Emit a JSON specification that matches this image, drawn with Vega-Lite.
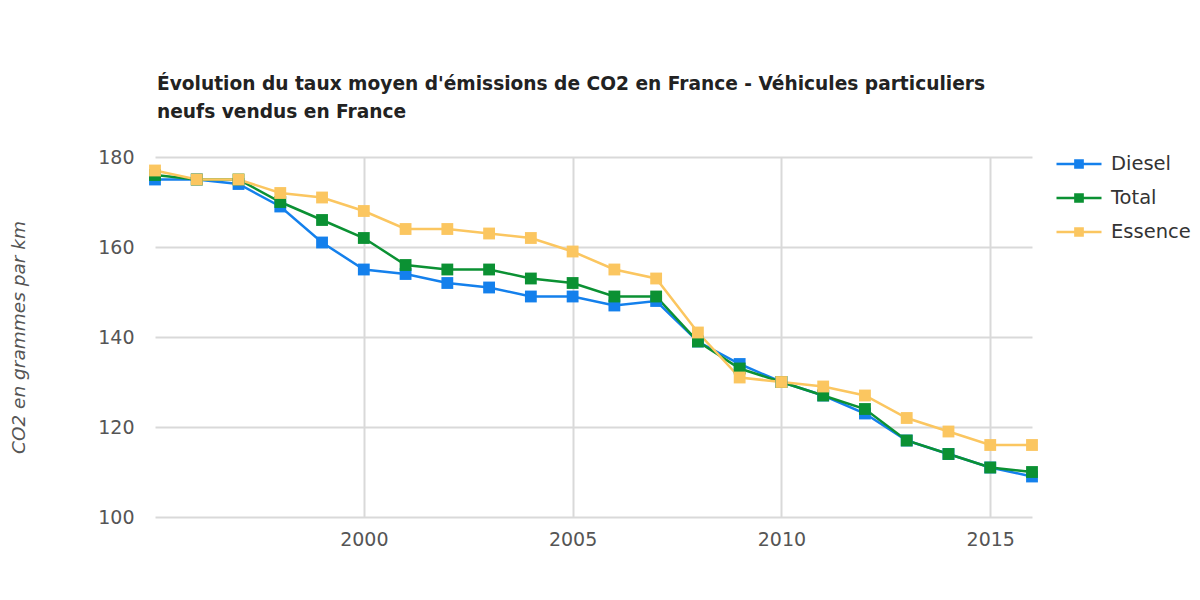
{
  "$schema": "https://vega.github.io/schema/vega-lite/v6.json",
  "width": 877,
  "height": 360,
  "autosize": {"type": "none"},
  "padding": {"left": 155, "top": 157, "right": 168, "bottom": 83},
  "background": "white",
  "title": {
    "text": ["Évolution du taux moyen d'émissions de CO2 en France - Véhicules particuliers", "neufs vendus en France"],
    "anchor": "start",
    "frame": "group",
    "font": "DejaVu Sans",
    "fontSize": 18.6,
    "fontWeight": "bold",
    "color": "#222222",
    "lineHeight": 28,
    "offset": 18,
    "dx": 2
  },
  "config": {
    "view": {"stroke": null},
    "font": "DejaVu Sans"
  },
  "data": {
    "values": [
      {"year": 1995, "type": "Diesel", "value": 175},
      {"year": 1996, "type": "Diesel", "value": 175},
      {"year": 1997, "type": "Diesel", "value": 174},
      {"year": 1998, "type": "Diesel", "value": 169},
      {"year": 1999, "type": "Diesel", "value": 161},
      {"year": 2000, "type": "Diesel", "value": 155},
      {"year": 2001, "type": "Diesel", "value": 154},
      {"year": 2002, "type": "Diesel", "value": 152},
      {"year": 2003, "type": "Diesel", "value": 151},
      {"year": 2004, "type": "Diesel", "value": 149},
      {"year": 2005, "type": "Diesel", "value": 149},
      {"year": 2006, "type": "Diesel", "value": 147},
      {"year": 2007, "type": "Diesel", "value": 148},
      {"year": 2008, "type": "Diesel", "value": 139},
      {"year": 2009, "type": "Diesel", "value": 134},
      {"year": 2010, "type": "Diesel", "value": 130},
      {"year": 2011, "type": "Diesel", "value": 127},
      {"year": 2012, "type": "Diesel", "value": 123},
      {"year": 2013, "type": "Diesel", "value": 117},
      {"year": 2014, "type": "Diesel", "value": 114},
      {"year": 2015, "type": "Diesel", "value": 111},
      {"year": 2016, "type": "Diesel", "value": 109},
      {"year": 1995, "type": "Total", "value": 176},
      {"year": 1996, "type": "Total", "value": 175},
      {"year": 1997, "type": "Total", "value": 175},
      {"year": 1998, "type": "Total", "value": 170},
      {"year": 1999, "type": "Total", "value": 166},
      {"year": 2000, "type": "Total", "value": 162},
      {"year": 2001, "type": "Total", "value": 156},
      {"year": 2002, "type": "Total", "value": 155},
      {"year": 2003, "type": "Total", "value": 155},
      {"year": 2004, "type": "Total", "value": 153},
      {"year": 2005, "type": "Total", "value": 152},
      {"year": 2006, "type": "Total", "value": 149},
      {"year": 2007, "type": "Total", "value": 149},
      {"year": 2008, "type": "Total", "value": 139},
      {"year": 2009, "type": "Total", "value": 133},
      {"year": 2010, "type": "Total", "value": 130},
      {"year": 2011, "type": "Total", "value": 127},
      {"year": 2012, "type": "Total", "value": 124},
      {"year": 2013, "type": "Total", "value": 117},
      {"year": 2014, "type": "Total", "value": 114},
      {"year": 2015, "type": "Total", "value": 111},
      {"year": 2016, "type": "Total", "value": 110},
      {"year": 1995, "type": "Essence", "value": 177},
      {"year": 1996, "type": "Essence", "value": 175},
      {"year": 1997, "type": "Essence", "value": 175},
      {"year": 1998, "type": "Essence", "value": 172},
      {"year": 1999, "type": "Essence", "value": 171},
      {"year": 2000, "type": "Essence", "value": 168},
      {"year": 2001, "type": "Essence", "value": 164},
      {"year": 2002, "type": "Essence", "value": 164},
      {"year": 2003, "type": "Essence", "value": 163},
      {"year": 2004, "type": "Essence", "value": 162},
      {"year": 2005, "type": "Essence", "value": 159},
      {"year": 2006, "type": "Essence", "value": 155},
      {"year": 2007, "type": "Essence", "value": 153},
      {"year": 2008, "type": "Essence", "value": 141},
      {"year": 2009, "type": "Essence", "value": 131},
      {"year": 2010, "type": "Essence", "value": 130},
      {"year": 2011, "type": "Essence", "value": 129},
      {"year": 2012, "type": "Essence", "value": 127},
      {"year": 2013, "type": "Essence", "value": 122},
      {"year": 2014, "type": "Essence", "value": 119},
      {"year": 2015, "type": "Essence", "value": 116},
      {"year": 2016, "type": "Essence", "value": 116}
    ]
  },
  "encoding": {
    "x": {
      "field": "year",
      "type": "quantitative",
      "scale": {"domain": [1995, 2016], "nice": false, "zero": false},
      "axis": {
        "title": null,
        "values": [2000, 2005, 2010, 2015],
        "format": "d",
        "domain": false,
        "ticks": false,
        "grid": true,
        "gridColor": "#d9d9d9",
        "gridWidth": 2,
        "labelFont": "DejaVu Sans",
        "labelFontSize": 19,
        "labelColor": "#555555",
        "labelPadding": 13
      }
    },
    "y": {
      "field": "value",
      "type": "quantitative",
      "scale": {"domain": [100, 180], "nice": false, "zero": false},
      "axis": {
        "title": "CO2 en grammes par km",
        "titleFont": "DejaVu Sans",
        "titleFontSize": 18.5,
        "titleFontStyle": "italic",
        "titleFontWeight": "normal",
        "titleColor": "#555555",
        "titlePadding": 69,
        "values": [100, 120, 140, 160, 180],
        "domain": false,
        "ticks": false,
        "grid": true,
        "gridColor": "#d9d9d9",
        "gridWidth": 2,
        "labelFont": "DejaVu Sans",
        "labelFontSize": 19,
        "labelColor": "#555555",
        "labelPadding": 21
      }
    },
    "color": {
      "field": "type",
      "type": "nominal",
      "scale": {"domain": ["Diesel", "Total", "Essence"], "range": ["#1480ec", "#0b9133", "#fbc660"]},
      "sort": ["Diesel", "Total", "Essence"],
      "legend": {
        "title": null,
        "orient": "none",
        "legendX": 900,
        "legendY": -17,
        "symbolType": "M-1,0H-0.16M0.16,0H1M-0.16,-0.16H0.16V0.16H-0.16Z",
        "symbolSize": 2025,
        "symbolStrokeWidth": 2.5,
        "labelFont": "DejaVu Sans",
        "labelFontSize": 19.5,
        "labelColor": "#333333",
        "rowPadding": -10,
        "labelOffset": 8,
        "encode": {
          "symbols": {"update": {"fill": {"scale": "color", "field": "value"}, "stroke": {"scale": "color", "field": "value"}}}
        }
      }
    }
  },
  "layer": [
    {
      "mark": {"type": "line", "strokeWidth": 2.5}
    },
    {
      "mark": {"type": "point", "shape": "square", "filled": true, "size": 140, "opacity": 1}
    }
  ]
}
